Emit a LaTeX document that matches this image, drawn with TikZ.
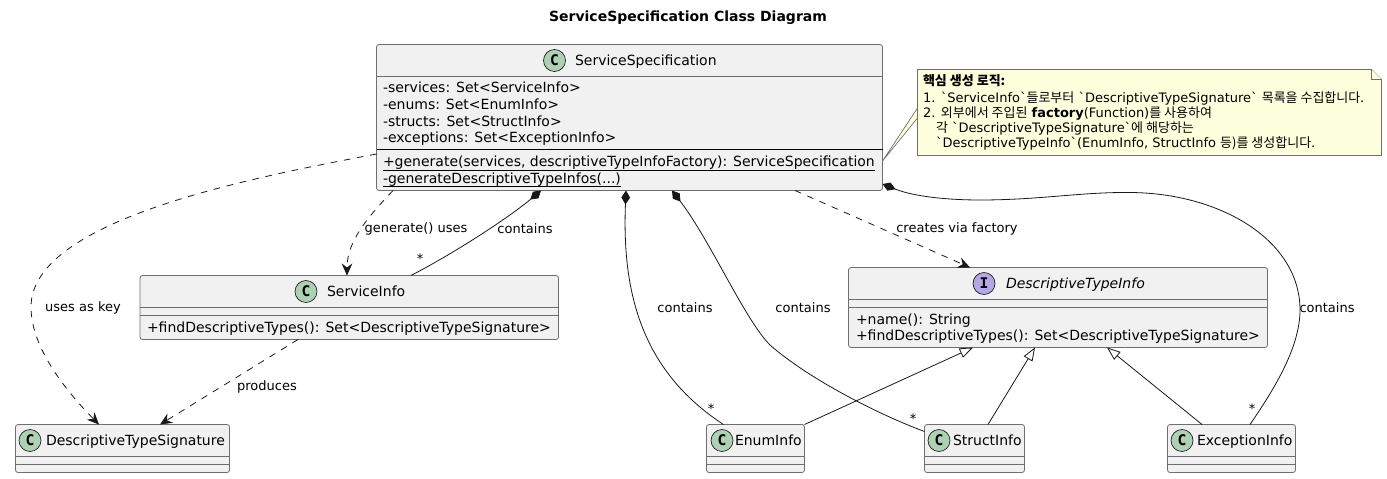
\documentclass[tikz,border=0pt]{standalone}
\usepackage{fontspec}
\setmainfont{DejaVu Sans}
\newfontfamily\kofont{Noto Sans CJK KR}
\newfontfamily\spotfont{DejaVu Sans Mono}
\newfontfamily\btfont{DejaVu Sans}
\usetikzlibrary{arrows.meta}
\definecolor{boxfill}{HTML}{F1F1F1}
\definecolor{inkc}{HTML}{181818}
\definecolor{edgec}{HTML}{6E6E6E}
\definecolor{notefill}{HTML}{FEFFDD}
\definecolor{spotc}{HTML}{ADD1B2}
\definecolor{spoti}{HTML}{B4A7E5}
\newcommand{\ko}[1]{{\kofont #1}}
\newcommand{\bt}{{\btfont\symbol{96}}}
\tikzset{
  x=0.75pt,y=-0.75pt,
  classbox/.style={draw=edgec,fill=boxfill,line width=0.6pt,rounded corners=1.9pt,inner sep=0pt,outer sep=0pt},
  sepline/.style={draw=edgec,line width=0.6pt},
  blackline/.style={draw=black,line width=0.75pt},
  txt/.style={inner sep=0pt,outer sep=0pt,font=\fontsize{10.5pt}{12pt}\selectfont,text=black},
  member/.style={txt,anchor=base west},
  lbl/.style={txt,font=\fontsize{9.75pt}{12pt}\selectfont},
  spot/.style={circle,draw=inkc,line width=0.5pt,minimum size=16.5pt,inner sep=0pt,outer sep=0pt,font=\spotfont\bfseries\fontsize{11pt}{12pt}\selectfont},
  rel/.style={draw=inkc,line width=0.6pt},
  dep/.style={rel,dash pattern=on 5pt off 5pt,-{Stealth[length=9pt,width=8pt,inset=3pt,fill=inkc]}},
  comp/.style={rel,{Diamond[length=10.5pt,width=6.5pt,fill=inkc]}-},
  ext/.style={rel,{Triangle[length=10pt,width=7.5pt,fill=white]}-},
  notetxt/.style={inner sep=0pt,outer sep=0pt,anchor=base west,font=\fontsize{9.75pt}{11pt}\selectfont,text=black},
  notebox/.style={draw=edgec,fill=notefill,line width=0.6pt}
}
\newcommand{\classnode}[5]{\node[classbox,minimum width={(#4-#2)*0.75pt},minimum height={(#5-#3)*0.75pt}] (#1) at ({(#2+#4)/2},{(#3+#5)/2}) {};}
\begin{document}
\begin{tikzpicture}
\useasboundingbox (0,0) rectangle (1387,478);
\node[inner sep=0pt,font=\bfseries\fontsize{10.5pt}{12pt}\selectfont] (title) at (688,18) {ServiceSpecification Class Diagram};

% ---- boxes
\classnode{ss}{376.5}{44.5}{882.5}{190.5}
\classnode{si}{140}{275.5}{558.5}{339.5}
\classnode{dts}{15.5}{424.5}{229.5}{472.5}
\classnode{dti}{848.5}{267.5}{1267.5}{347.5}
\classnode{ei}{706.5}{424.5}{804.5}{472.5}
\classnode{sti}{924.5}{424.5}{1024.5}{472.5}
\classnode{exi}{1167.5}{424.5}{1295.5}{472.5}

% ---- compartments
\draw[sepline] (376.5,76.5) -- (882.5,76.5);
\draw[blackline] (376.5,149.5) -- (882.5,149.5);
\draw[sepline] (140,307.5) -- (558.5,307.5) (140,315.5) -- (558.5,315.5);
\draw[sepline] (15.5,456.5) -- (229.5,456.5) (15.5,464.5) -- (229.5,464.5);
\draw[sepline] (848.5,299.5) -- (1267.5,299.5) (848.5,307.5) -- (1267.5,307.5);
\draw[sepline] (706.5,456.5) -- (804.5,456.5) (706.5,464.5) -- (804.5,464.5);
\draw[sepline] (924.5,456.5) -- (1024.5,456.5) (924.5,464.5) -- (1024.5,464.5);
\draw[sepline] (1167.5,456.5) -- (1295.5,456.5) (1167.5,464.5) -- (1295.5,464.5);

% ---- headers
\node[spot,fill=spotc] (ssc) at (554.5,60.5) {C};
\node[txt,anchor=base west] (sst) at (575,65.5) {ServiceSpecification};
\node[spot,fill=spotc] (sic) at (306,291.5) {C};
\node[txt,anchor=base west] (sit) at (327,296.5) {ServiceInfo};
\node[spot,fill=spotc] (dtsc) at (30,440.5) {C};
\node[txt,anchor=base west] (dtst) at (46,445.5) {DescriptiveTypeSignature};
\node[spot,fill=spoti] (dtic) at (984,283.5) {I};
\node[txt,anchor=base west,font=\itshape\fontsize{10.5pt}{12pt}\selectfont] (dtit) at (1006,288.5) {DescriptiveTypeInfo};
\node[spot,fill=spotc] (eic) at (722,440.5) {C};
\node[txt,anchor=base west] (eit) at (735,445.5) {EnumInfo};
\node[spot,fill=spotc] (stic) at (939,440.5) {C};
\node[txt,anchor=base west] (stit) at (953,445.5) {StructInfo};
\node[spot,fill=spotc] (exic) at (1182,440.5) {C};
\node[txt,anchor=base west] (exit) at (1197,445.5) {ExceptionInfo};

% ---- members
\node[member] (m1) at (383,93) {-services: Set<ServiceInfo>};
\node[member] (m2) at (383,109) {-enums: Set<EnumInfo>};
\node[member] (m3) at (383,126) {-structs: Set<StructInfo>};
\node[member] (m4) at (383,142) {-exceptions: Set<ExceptionInfo>};
\node[member] (m5) at (383,166) {+generate(services, descriptiveTypeInfoFactory): ServiceSpecification};
\node[member] (m6) at (383,183) {-generateDescriptiveTypeInfos(...)};
\draw[draw=black,line width=0.75pt] (m5.west |- 0,170.5) -- (m5.east |- 0,170.5);
\draw[draw=black,line width=0.75pt] (m6.west |- 0,186.5) -- (m6.east |- 0,186.5);
\node[member] (m7) at (147,332) {+findDescriptiveTypes(): Set<DescriptiveTypeSignature>};
\node[member] (m8) at (856,324) {+name(): String};
\node[member] (m9) at (856,340) {+findDescriptiveTypes(): Set<DescriptiveTypeSignature>};

% ---- note link and note
\coordinate (nla) at (917.5,108);
\coordinate (nlb) at (917.5,118);
\coordinate (nlc) at (ss.east |- 0,161);
\fill[notefill] (nla) -- (nlc) -- (nlb) -- cycle;
\draw[draw=edgec,line width=0.5pt] (nla) -- (nlc) -- (nlb);
\coordinate (n1) at (917.5,69.5);
\coordinate (n2) at (1371.5,69.5);
\coordinate (n3) at (1381.5,79.5);
\coordinate (n4) at (1381.5,155.5);
\coordinate (n5) at (917.5,155.5);
\draw[notebox] (n1) -- (n2) -- (n3) -- (n4) -- (n5) -- cycle;
\draw[notebox] (n2) -- (1371.5,79.5) -- (n3);
\node[notetxt,font=\bfseries\fontsize{9.75pt}{11pt}\selectfont] (t0) at (923,85.5) {\ko{핵심 생성 로직:}};
\node[notetxt] (t1) at (923,102) {1. \bt ServiceInfo\bt\ko{들로부터} \bt DescriptiveTypeSignature\bt\ \ko{목록을 수집합니다.}};
\node[notetxt] (t2) at (923,117) {2. \ko{외부에서 주입된} \textbf{factory}(Function)\ko{를 사용하여}};
\node[notetxt] (t3) at (936,132) {\ko{각} \bt DescriptiveTypeSignature\bt\ko{에 해당하는}};
\node[notetxt] (t4) at (936,147) {\bt DescriptiveTypeInfo\bt(EnumInfo, StructInfo \ko{등)를 생성합니다.}};

% ---- connectors
\draw[dep] (ss.west |- 0,154) .. controls (250,178) and (31,220) .. (31,307) .. controls (31,350) and (70,395) .. (99,0 |- dts.north);
\draw[dep] (393,0 |- ss.south) .. controls (370,215) and (347,240) .. (347,0 |- si.north);
\draw[dep] (795,0 |- ss.south) -- (970,0 |- dti.north);
\draw[dep] (298,0 |- si.south) -- (160,0 |- dts.north);
\draw[comp] (541,0 |- ss.south) .. controls (512,215) and (460,250) .. (411,0 |- si.north);
\draw[comp] (626,0 |- ss.south) .. controls (622,290) and (640,370) .. (723.5,0 |- ei.north);
\draw[comp] (672,0 |- ss.south) .. controls (710,240) and (745,320) .. (770,345) .. controls (810,380) and (880,415) .. (sti.west |- 0,431.5);
\draw[comp] (ss.east |- 0,184) .. controls (915,197) and (950,200) .. (980,200) .. controls (1040,200) and (1080,192) .. (1130,192.5) .. controls (1220,193) and (1300,240) .. (1300,310) .. controls (1300,350) and (1270,395) .. (1250,0 |- exi.north);
\draw[ext] (973,0 |- dti.south) -- (ei.north east);
\draw[ext] (1035,0 |- dti.south) -- (988,0 |- sti.north);
\draw[ext] (1107,0 |- dti.south) -- (1202,0 |- exi.north);

% ---- labels
\node[lbl] (l1) at (83,307.5) {uses as key};
\node[lbl] (l2) at (416,228.5) {generate() uses};
\node[lbl] (l3) at (525,228.5) {contains};
\node[lbl] (l4) at (267,386.5) {produces};
\node[lbl] (l5) at (685,307.5) {contains};
\node[lbl] (l6) at (803,307.5) {contains};
\node[lbl] (l7) at (957,228.5) {creates via factory};
\node[lbl] (l8) at (1327,307.5) {contains};
\node[lbl] (s1) at (420,259) {*};
\node[lbl] (s2) at (711,409) {*};
\node[lbl] (s3) at (913,419) {*};
\node[lbl] (s4) at (1252,409) {*};
\end{tikzpicture}
\end{document}
